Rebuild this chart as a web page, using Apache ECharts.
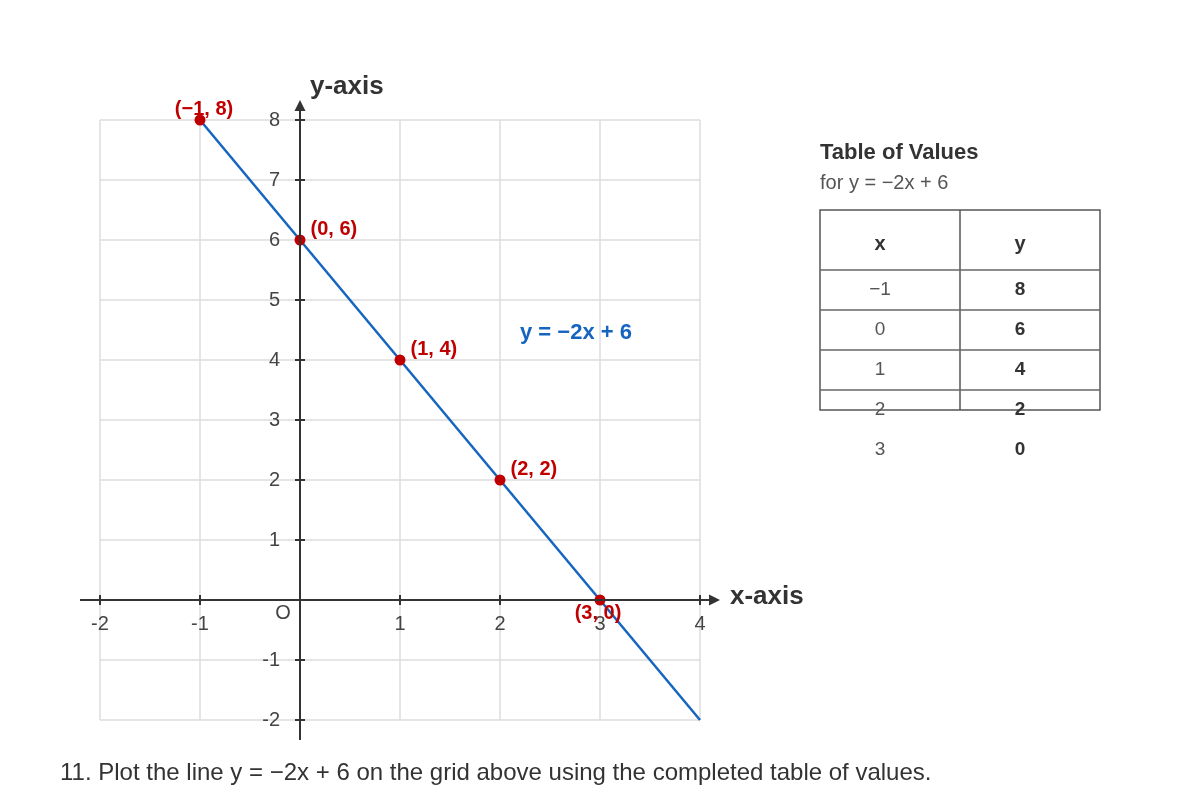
<!DOCTYPE html>
<html><head><meta charset="utf-8">
<script src="https://cdn.jsdelivr.net/npm/echarts@6/dist/echarts.min.js"></script>
<style>html,body{margin:0;padding:0;background:#fff}#c{width:1200px;height:800px}</style>
</head><body><div id="c"></div>
<script>
// ---- data ----
const xTicks = [-2, -1, 0, 1, 2, 3, 4];
const yTicks = [-2, -1, 0, 1, 2, 3, 4, 5, 6, 7, 8];
const xTickLabels = ['-2', '-1', '', '1', '2', '3', '4'];
const yTickLabels = ['-2', '-1', '', '1', '2', '3', '4', '5', '6', '7', '8'];
const lineX = [-1, 4];
const lineY = [8, -2];
const pointX = [-1, 0, 1, 2, 3];
const pointY = [8, 6, 4, 2, 0];
const pointLabels = ['(−1, 8)', '(0, 6)', '(1, 4)', '(2, 2)', '(3, 0)'];
const tableHeader = ['x', 'y'];
const tableX = ['−1', '0', '1', '2', '3'];
const tableY = ['8', '6', '4', '2', '0'];
const equationText = 'y = −2x + 6';
const tableTitle = 'Table of Values';
const tableSubtitle = 'for y = −2x + 6';
const captionText = '11. Plot the line y = −2x + 6 on the grid above using the completed table of values.';

// ---- style ----
const FONT = '"Liberation Sans", Arial, sans-serif';
const BLUE = '#1565c0';
const RED = '#c00000';
const DARK = '#333';
const labelPlacement = [
  { position: 'inside', offset: [4, -11] },
  { position: 'right', distance: 5, offset: [0, -11] },
  { position: 'right', distance: 5, offset: [0, -11] },
  { position: 'right', distance: 5, offset: [0, -11] },
  { position: 'inside', offset: [-2, 13] }
];

const chart = echarts.init(document.getElementById('c'), null, { renderer: 'canvas' });

const tickLabelStyle = { show: true, fontSize: 20, color: '#444', fontFamily: FONT };

const option = {
  backgroundColor: '#fff',
  animation: false,
  textStyle: { fontFamily: FONT },
  grid: { left: 100, top: 120, width: 600, height: 600, containLabel: false },
  xAxis: {
    type: 'value', min: xTicks[0], max: xTicks[xTicks.length - 1], interval: 1,
    axisLine: { show: false },
    axisTick: { show: false },
    axisLabel: { show: false },
    splitLine: { show: true, lineStyle: { color: '#dcdcdc', width: 1.5 } }
  },
  yAxis: {
    type: 'value', min: yTicks[0], max: yTicks[yTicks.length - 1], interval: 1,
    axisLine: { show: false },
    axisTick: { show: false },
    axisLabel: { show: false },
    splitLine: { show: true, lineStyle: { color: '#dcdcdc', width: 1.5 } }
  },
  series: [
    {
      name: 'xTicks', type: 'scatter', symbol: 'rect', symbolSize: [2, 10],
      data: xTicks.map((x, i) => ({ value: [x, 0], label: Object.assign({ formatter: xTickLabels[i] }, tickLabelStyle) })),
      label: { position: 'bottom', distance: 9 },
      itemStyle: { color: DARK, opacity: 1 }, z: 4, silent: true, clip: false
    },
    {
      name: 'yTicks', type: 'scatter', symbol: 'rect', symbolSize: [10, 2],
      data: yTicks.map((y, i) => ({ value: [0, y], label: Object.assign({ formatter: yTickLabels[i] }, tickLabelStyle) })),
      label: { position: 'left', distance: 15 },
      itemStyle: { color: DARK, opacity: 1 }, z: 4, silent: true, clip: false
    },
    {
      name: 'line', type: 'line', showSymbol: false, clip: false,
      data: lineX.map((x, i) => [x, lineY[i]]),
      lineStyle: { color: BLUE, width: 2.5 }, z: 5
    },
    {
      name: 'points', type: 'scatter', symbol: 'circle', symbolSize: 11, clip: false,
      itemStyle: { color: RED, opacity: 1 }, z: 6,
      data: pointX.map((x, i) => ({
        value: [x, pointY[i]],
        label: Object.assign({
          show: true, formatter: pointLabels[i], color: RED,
          fontSize: 20, fontWeight: 'bold', fontFamily: FONT
        }, labelPlacement[i])
      }))
    }
  ]
};
chart.setOption(option);

// ---- axes, annotations and table as graphics positioned via the chart's scales ----
const px = (x, y) => chart.convertToPixel({ gridIndex: 0 }, [x, y]);
const o = px(0, 0);
const xl = px(-2.2, 0), xr = px(4.2, 0);
const yb = px(0, -2.333), yt = px(0, 8.333);
const g = [];
// x axis line + arrow
g.push({ type: 'line', shape: { x1: xl[0], y1: o[1], x2: xr[0] - 8, y2: o[1] }, style: { stroke: DARK, lineWidth: 2 }, z: 10 });
g.push({ type: 'polygon', shape: { points: [[xr[0], o[1]], [xr[0] - 11, o[1] - 5.5], [xr[0] - 11, o[1] + 5.5]] }, style: { fill: DARK }, z: 10 });
// y axis line + arrow
g.push({ type: 'line', shape: { x1: o[0], y1: yb[1], x2: o[0], y2: yt[1] + 8 }, style: { stroke: DARK, lineWidth: 2 }, z: 10 });
g.push({ type: 'polygon', shape: { points: [[o[0], yt[1]], [o[0] - 5.5, yt[1] + 11], [o[0] + 5.5, yt[1] + 11]] }, style: { fill: DARK }, z: 10 });
// origin label
g.push({ type: 'text', x: o[0] - 17, y: o[1] + 13, style: { text: 'O', fontSize: 20, fill: '#444', fontFamily: FONT, align: 'center', verticalAlign: 'middle' }, z: 10 });
// axis names
g.push({ type: 'text', x: o[0] + 10, y: yt[1] - 13, style: { text: 'y-axis', fontSize: 26, fontWeight: 'bold', fill: DARK, fontFamily: FONT, align: 'left', verticalAlign: 'middle' }, z: 10 });
g.push({ type: 'text', x: xr[0] + 10, y: o[1] - 3, style: { text: 'x-axis', fontSize: 26, fontWeight: 'bold', fill: DARK, fontFamily: FONT, align: 'left', verticalAlign: 'middle' }, z: 10 });
// equation label
const eq = px(2.2, 4.45);
g.push({ type: 'text', x: eq[0], y: eq[1], style: { text: equationText, fontSize: 22, fontWeight: 'bold', fill: BLUE, fontFamily: FONT, align: 'left', verticalAlign: 'middle' }, z: 10 });

// table
const TX = 820, TY = 210, TW = 280, TH = 200, HEAD = 60, ROW = 40;
g.push({ type: 'text', x: TX, y: 153, style: { text: tableTitle, fontSize: 22, fontWeight: 'bold', fill: DARK, fontFamily: FONT, align: 'left', verticalAlign: 'middle' } });
g.push({ type: 'text', x: TX, y: 183, style: { text: tableSubtitle, fontSize: 20, fill: '#555', fontFamily: FONT, align: 'left', verticalAlign: 'middle' } });
g.push({ type: 'rect', shape: { x: TX, y: TY, width: TW, height: TH }, style: { fill: 'none', stroke: '#555', lineWidth: 1.5 } });
g.push({ type: 'line', shape: { x1: TX + TW / 2, y1: TY, x2: TX + TW / 2, y2: TY + TH }, style: { stroke: '#555', lineWidth: 1.5 } });
for (let k = 0; k < 4; k++) {
  const yy = TY + HEAD + k * ROW;
  g.push({ type: 'line', shape: { x1: TX, y1: yy, x2: TX + TW, y2: yy }, style: { stroke: '#666', lineWidth: 1.5 } });
}
const c1 = TX + 60, c2 = TX + 200;
g.push({ type: 'text', x: c1, y: TY + 34, style: { text: tableHeader[0], fontSize: 20, fontWeight: 'bold', fill: DARK, fontFamily: FONT, align: 'center', verticalAlign: 'middle' } });
g.push({ type: 'text', x: c2, y: TY + 34, style: { text: tableHeader[1], fontSize: 20, fontWeight: 'bold', fill: DARK, fontFamily: FONT, align: 'center', verticalAlign: 'middle' } });
tableX.forEach((v, i) => {
  const yy = TY + HEAD + 20 + i * ROW;
  g.push({ type: 'text', x: c1, y: yy, style: { text: v, fontSize: 19, fill: '#555', fontFamily: FONT, align: 'center', verticalAlign: 'middle' } });
  g.push({ type: 'text', x: c2, y: yy, style: { text: tableY[i], fontSize: 19, fontWeight: 'bold', fill: DARK, fontFamily: FONT, align: 'center', verticalAlign: 'middle' } });
});
// caption
g.push({ type: 'text', x: 60, y: 773, style: { text: captionText, fontSize: 24, fill: DARK, fontFamily: FONT, align: 'left', verticalAlign: 'middle' } });

chart.setOption({ graphic: { elements: g } });
</script>
</body></html>
